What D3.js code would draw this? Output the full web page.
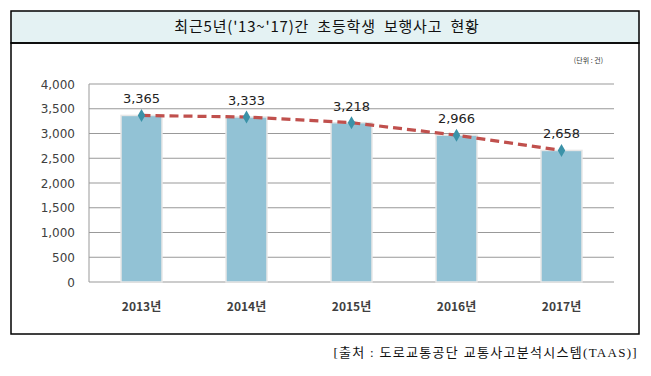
<!DOCTYPE html>
<html>
<head>
<meta charset="utf-8">
<script src="https://cdn.jsdelivr.net/npm/d3@7"></script>
<style>
  body { margin: 0; background: #fff; }
  text { font-family: "Noto Sans CJK KR", "DejaVu Sans", sans-serif; }
</style>
</head>
<body>
<div id="chart"></div>
<script>
// Data
const years = ["2013년", "2014년", "2015년", "2016년", "2017년"];
const accidents = [3365, 3333, 3218, 2966, 2658];
const yTicks = [0, 500, 1000, 1500, 2000, 2500, 3000, 3500, 4000];

const W = 651, H = 376;
const svg = d3.select("#chart").append("svg")
  .attr("width", W).attr("height", H);

// Outer frame and title band
svg.append("rect").attr("x", 11).attr("y", 11).attr("width", 628).attr("height", 32)
  .attr("fill", "#e4f2f3").attr("stroke", "#000").attr("stroke-width", 1.5);
svg.append("rect").attr("x", 11).attr("y", 43).attr("width", 628).attr("height", 291)
  .attr("fill", "none").attr("stroke", "#000").attr("stroke-width", 1.5);

svg.append("text")
  .attr("x", 327).attr("y", 31.5)
  .attr("text-anchor", "middle")
  .style("font-size", "15px")
  .style("letter-spacing", "0.8px")
  .style("word-spacing", "4px")
  .attr("fill", "#111")
  .text("최근5년('13~'17)간 초등학생 보행사고 현황");

svg.append("text")
  .attr("x", 603).attr("y", 63)
  .attr("text-anchor", "end")
  .style("font-size", "7px")
  .attr("fill", "#333")
  .text("(단위 : 건)");

// Plot area
const margin = {top: 84, left: 89, right: 614, bottom: 282};

const x = d3.scaleBand()
  .domain(years)
  .range([margin.left, margin.right])
  .paddingInner(0.61).paddingOuter(0.305);

const y = d3.scaleLinear()
  .domain([0, 4000])
  .range([margin.bottom, margin.top]);

// Gridlines
svg.append("g")
  .selectAll("line")
  .data(yTicks)
  .join("line")
  .attr("x1", margin.left).attr("x2", margin.right)
  .attr("y1", d => y(d)).attr("y2", d => y(d))
  .attr("stroke", "#999")
  .attr("stroke-width", 1);

// Plot border (left)
svg.append("line")
  .attr("x1", margin.left).attr("x2", margin.left)
  .attr("y1", margin.top).attr("y2", margin.bottom)
  .attr("stroke", "#999");

// Y axis labels
svg.append("g")
  .selectAll("text")
  .data(yTicks)
  .join("text")
  .attr("x", 75).attr("y", d => y(d) + 4.5)
  .attr("text-anchor", "end")
  .style("font-size", "12px")
  .style("font-family", "'DejaVu Sans', sans-serif")
  .attr("fill", "#404040")
  .text(d => d3.format(",")(d));

// Bars
svg.append("g")
  .selectAll("rect")
  .data(accidents)
  .join("rect")
  .attr("x", (d, i) => x(years[i]))
  .attr("y", d => y(d))
  .attr("width", x.bandwidth())
  .attr("height", d => y(0) - y(d))
  .attr("fill", "#92c2d5")
  .attr("stroke", "#e6e6e6")
  .attr("stroke-width", 1.5);

// Trend line
const line = d3.line()
  .x((d, i) => x(years[i]) + x.bandwidth() / 2)
  .y(d => y(d));

svg.append("path")
  .datum(accidents)
  .attr("d", line)
  .attr("fill", "none")
  .attr("stroke", "#c0504d")
  .attr("stroke-width", 3.2)
  .attr("stroke-dasharray", "9,5");

// Diamond markers
svg.append("g")
  .selectAll("path")
  .data(accidents)
  .join("path")
  .attr("d", d3.symbol(d3.symbolDiamond, 48))
  .attr("transform", (d, i) => "translate(" + (x(years[i]) + x.bandwidth() / 2) + "," + y(d) + ")")
  .attr("fill", "#3b92a8");

// Value labels
svg.append("g")
  .selectAll("text")
  .data(accidents)
  .join("text")
  .attr("x", (d, i) => x(years[i]) + x.bandwidth() / 2)
  .attr("y", d => y(d) - 12)
  .attr("text-anchor", "middle")
  .style("font-size", "13px")
  .style("font-family", "'DejaVu Sans', sans-serif")
  .attr("fill", "#222")
  .text(d => d3.format(",")(d));

// X axis labels
svg.append("g")
  .selectAll("text")
  .data(years)
  .join("text")
  .attr("x", d => x(d) + x.bandwidth() / 2)
  .attr("y", 311)
  .attr("text-anchor", "middle")
  .style("font-size", "12px")
  .style("font-weight", "bold")
  .attr("fill", "#404040")
  .text(d => d);

// Source
svg.append("text")
  .attr("x", 638).attr("y", 357)
  .attr("text-anchor", "end")
  .style("font-size", "13px")
  .style("letter-spacing", "1.3px")
  .style("font-family", "'Liberation Serif', 'Noto Sans CJK KR', serif")
  .attr("fill", "#111")
  .text("[출처 : 도로교통공단 교통사고분석시스템(TAAS)]");
</script>
</body>
</html>
